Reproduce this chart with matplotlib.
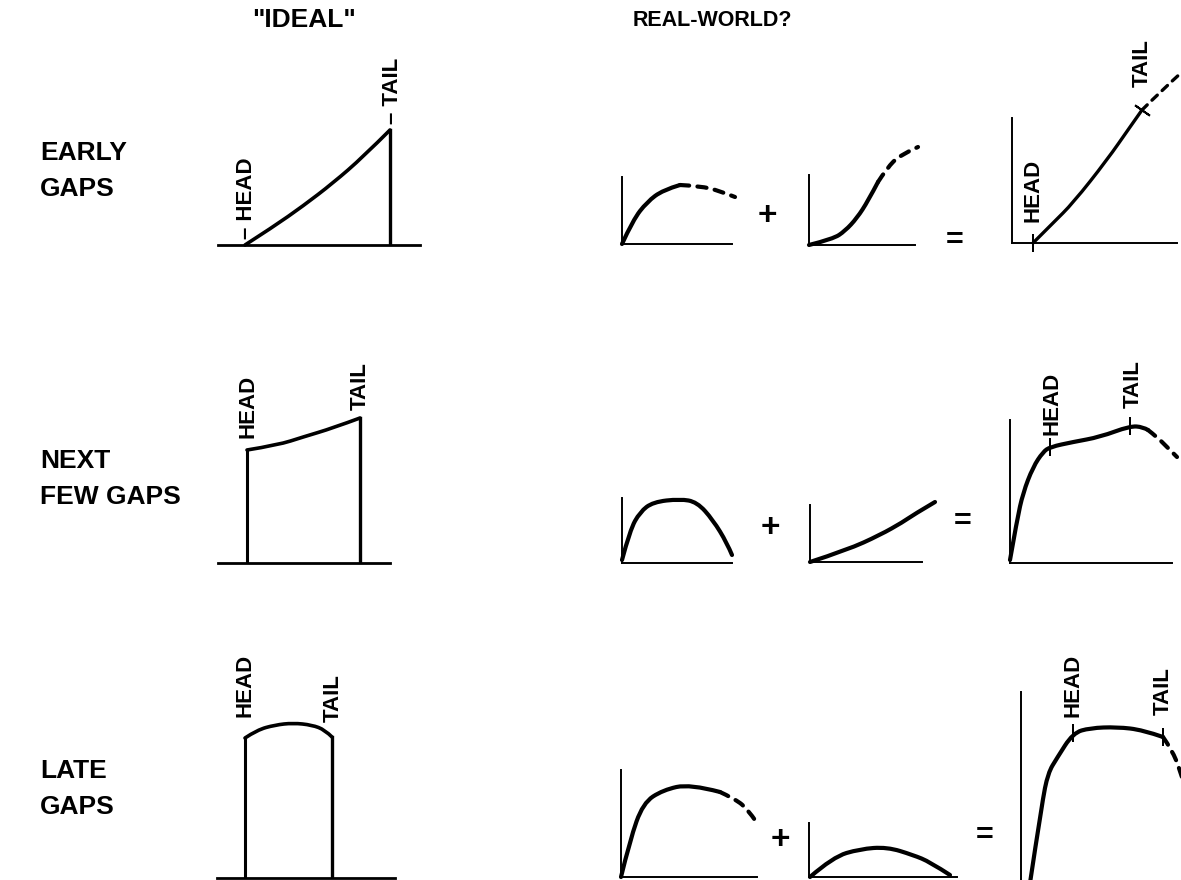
import matplotlib.pyplot as plt
from matplotlib.path import Path
from matplotlib.patches import PathPatch

plt.rcParams["font.family"] = ["Liberation Sans", "DejaVu Sans"]

W, H = 1181, 880

row_labels = ["EARLY\nGAPS", "NEXT\nFEW GAPS", "LATE\nGAPS"]
col_titles = ['"IDEAL"', "REAL-WORLD?"]

# ---- EARLY GAPS (curve samples, x = time, y = rate, panel units) ----
early_ideal_x = [27, 55, 85, 115, 145, 172]
early_ideal_y = [0, 18, 39, 62, 88, 115]
early_a_x = [0, 11, 25, 41, 58]
early_a_y = [0, 24, 42, 54, 59]
early_a_dash_x = [58, 78, 98, 113]
early_a_dash_y = [59, 58, 53, 47]
early_b_x = [0, 24, 36, 48, 59, 69]
early_b_y = [0, 6, 14, 27, 44, 63]
early_b_dash_x = [69, 78, 91, 109]
early_b_dash_y = [63, 77, 90, 98]
early_sum_x = [21, 41, 61, 95, 118, 130]
early_sum_y = [0, 20, 40, 83, 116, 133]
early_sum_dash_x = [130, 148, 170]
early_sum_dash_y = [133, 151, 171]

# ---- NEXT FEW GAPS ----
next_ideal_x = [29, 60, 85, 115, 142]
next_ideal_y = [113, 118, 126, 135, 145]
next_a_x = [0, 8, 18, 31, 58, 75, 91, 105, 110]
next_a_y = [3, 33, 51, 61, 64, 61, 43, 20, 8]
next_b_x = [0, 37, 70, 93, 103, 125]
next_b_y = [0, 12, 27, 40, 47, 60]
next_sum_x = [0, 7, 13, 23, 33, 40, 63, 90, 120, 133, 138]
next_sum_y = [3, 43, 70, 96, 111, 116, 121, 126, 137, 136, 133]
next_sum_dash_x = [138, 147, 157, 167]
next_sum_dash_y = [133, 126, 116, 106]

# ---- LATE GAPS ----
late_ideal_x = [28, 40, 58, 76, 95, 108, 115]
late_ideal_y = [140, 148, 153, 155, 153, 148, 141]
late_a_x = [0, 9, 22, 42, 69, 99]
late_a_y = [0, 37, 74, 87, 93, 85]
late_a_dash_x = [99, 112, 126, 136]
late_a_dash_y = [85, 79, 69, 54]
late_b_x = [1, 24, 51, 78, 104, 121, 141]
late_b_y = [0, 20, 28, 30, 22, 15, 2]
late_sum_x = [9, 21, 27, 36, 52, 69, 96, 122, 142]
late_sum_y = [0, 80, 110, 125, 150, 155, 156, 153, 146]
late_sum_dash_x = [142, 151, 159, 165]
late_sum_dash_y = [146, 133, 113, 93]

fig = plt.figure(figsize=(W / 100, H / 100), dpi=100)


def panel(left, base, width, height, spines=("left", "bottom"), lw=1.4):
    ax = fig.add_axes([left / W, 1 - base / H, width / W, height / H])
    ax.set_xlim(0, width)
    ax.set_ylim(0, height)
    for name, sp in ax.spines.items():
        sp.set_visible(name in spines)
        sp.set_linewidth(lw)
    ax.set_xticks([])
    ax.set_yticks([])
    ax.patch.set_visible(False)
    return ax


def curve(ax, xs, ys, dashed=False, lw=3.0):
    pts = list(zip(xs, ys))
    verts = [pts[0]]
    codes = [Path.MOVETO]
    if len(pts) == 2:
        verts.append(pts[1])
        codes.append(Path.LINETO)
    for i in range(1, len(pts) - 1):
        if i == len(pts) - 2:
            end = pts[-1]
        else:
            end = ((pts[i][0] + pts[i + 1][0]) / 2, (pts[i][1] + pts[i + 1][1]) / 2)
        verts += [pts[i], end]
        codes += [Path.CURVE3, Path.CURVE3]
    ls = (0, (2.2, 2.0)) if dashed else "solid"
    ax.add_patch(PathPatch(Path(verts, codes), fill=False, lw=lw, ls=ls,
                           capstyle="round", joinstyle="round", color="black",
                           clip_on=False))


def label(ax, x, y, s):
    ax.text(x, y, s, rotation=90, ha="center", va="bottom", fontsize=16,
            fontweight="bold", clip_on=False)


def tick(ax, x, y, angle=0):
    ax.plot([x], [y], marker=(2, 2, angle), ms=13, mew=1.4, color="black",
            clip_on=False)


# titles and row labels
fig.text(304 / W, 1 - 20 / H, col_titles[0], ha="center", va="center",
         fontsize=19, fontweight="bold")
fig.text(712 / W, 1 - 20 / H, col_titles[1], ha="center", va="center",
         fontsize=15.5, fontweight="bold")
for lab, yc in zip(row_labels, [171, 479, 789]):
    fig.text(40 / W, 1 - yc / H, lab, ha="left", va="center", fontsize=19,
             fontweight="bold", linespacing=1.6)

# ---- row 1 ----
ax = panel(218, 245, 202, 130, spines=("bottom",), lw=2)
curve(ax, early_ideal_x, early_ideal_y, lw=2.6)
ax.plot([early_ideal_x[-1]] * 2, [early_ideal_y[-1], 0], color="black", lw=2.4)
label(ax, 29, 6, "– HEAD")
label(ax, 175, 121, "– TAIL")

ax = panel(622, 244, 110, 67)
curve(ax, early_a_x, early_a_y)
curve(ax, early_a_dash_x, early_a_dash_y, dashed=True)

ax = panel(809, 245, 106, 70)
curve(ax, early_b_x, early_b_y)
curve(ax, early_b_dash_x, early_b_dash_y, dashed=True)

ax = panel(1012, 243, 165, 125)
curve(ax, early_sum_x, early_sum_y, lw=2.4)
curve(ax, early_sum_dash_x, early_sum_dash_y, dashed=True, lw=2.4)
tick(ax, early_sum_x[0], early_sum_y[0])
tick(ax, early_sum_x[-1], early_sum_y[-1], angle=55)
label(ax, 21, 21, "HEAD")
label(ax, 130, 156, "TAIL")

# ---- row 2 ----
ax = panel(218, 563, 172, 150, spines=("bottom",), lw=2)
curve(ax, next_ideal_x, next_ideal_y, lw=2.6)
ax.plot([next_ideal_x[0]] * 2, [0, next_ideal_y[0]], color="black", lw=2.2)
ax.plot([next_ideal_x[-1]] * 2, [0, next_ideal_y[-1]], color="black", lw=2.4)
label(ax, 30, 125, "HEAD")
label(ax, 142, 153, "TAIL")

ax = panel(622, 563, 110, 65)
curve(ax, next_a_x, next_a_y)

ax = panel(810, 562, 112, 57)
curve(ax, next_b_x, next_b_y)

ax = panel(1010, 563, 162, 143)
curve(ax, next_sum_x, next_sum_y)
curve(ax, next_sum_dash_x, next_sum_dash_y, dashed=True)
tick(ax, next_sum_x[5], next_sum_y[5])
tick(ax, next_sum_x[8], next_sum_y[8])
label(ax, 42, 128, "HEAD")
label(ax, 123, 155, "TAIL")

# ---- row 3 ----
ax = panel(217, 878, 178, 160, spines=("bottom",), lw=2)
curve(ax, late_ideal_x, late_ideal_y, lw=2.6)
ax.plot([late_ideal_x[0]] * 2, [0, late_ideal_y[0]], color="black", lw=2.2)
ax.plot([late_ideal_x[-1]] * 2, [0, late_ideal_y[-1]], color="black", lw=2.4)
label(ax, 28, 161, "HEAD")
label(ax, 116, 156, "TAIL")

ax = panel(621, 877, 136, 107)
curve(ax, late_a_x, late_a_y)
curve(ax, late_a_dash_x, late_a_dash_y, dashed=True)

ax = panel(809, 877, 148, 54)
curve(ax, late_b_x, late_b_y)

ax = panel(1021, 883, 160, 191)
curve(ax, late_sum_x, late_sum_y)
curve(ax, late_sum_dash_x, late_sum_dash_y, dashed=True)
tick(ax, late_sum_x[4], late_sum_y[4])
tick(ax, late_sum_x[-1], late_sum_y[-1])
label(ax, 52, 166, "HEAD")
label(ax, 142, 168, "TAIL")

# operators between panels
for sym, (px, py) in zip(["+", "+", "+"], [(767, 216), (770, 528), (780, 840)]):
    fig.text(px / W, 1 - py / H, sym, ha="center", va="center", fontsize=24,
             fontweight="bold")
for sym, (px, py) in zip(["=", "=", "="], [(955, 241), (963, 522), (985, 836)]):
    fig.text(px / W, 1 - py / H, sym, ha="center", va="center", fontsize=22,
             fontweight="bold")

fig.savefig("out.png", dpi=100)
